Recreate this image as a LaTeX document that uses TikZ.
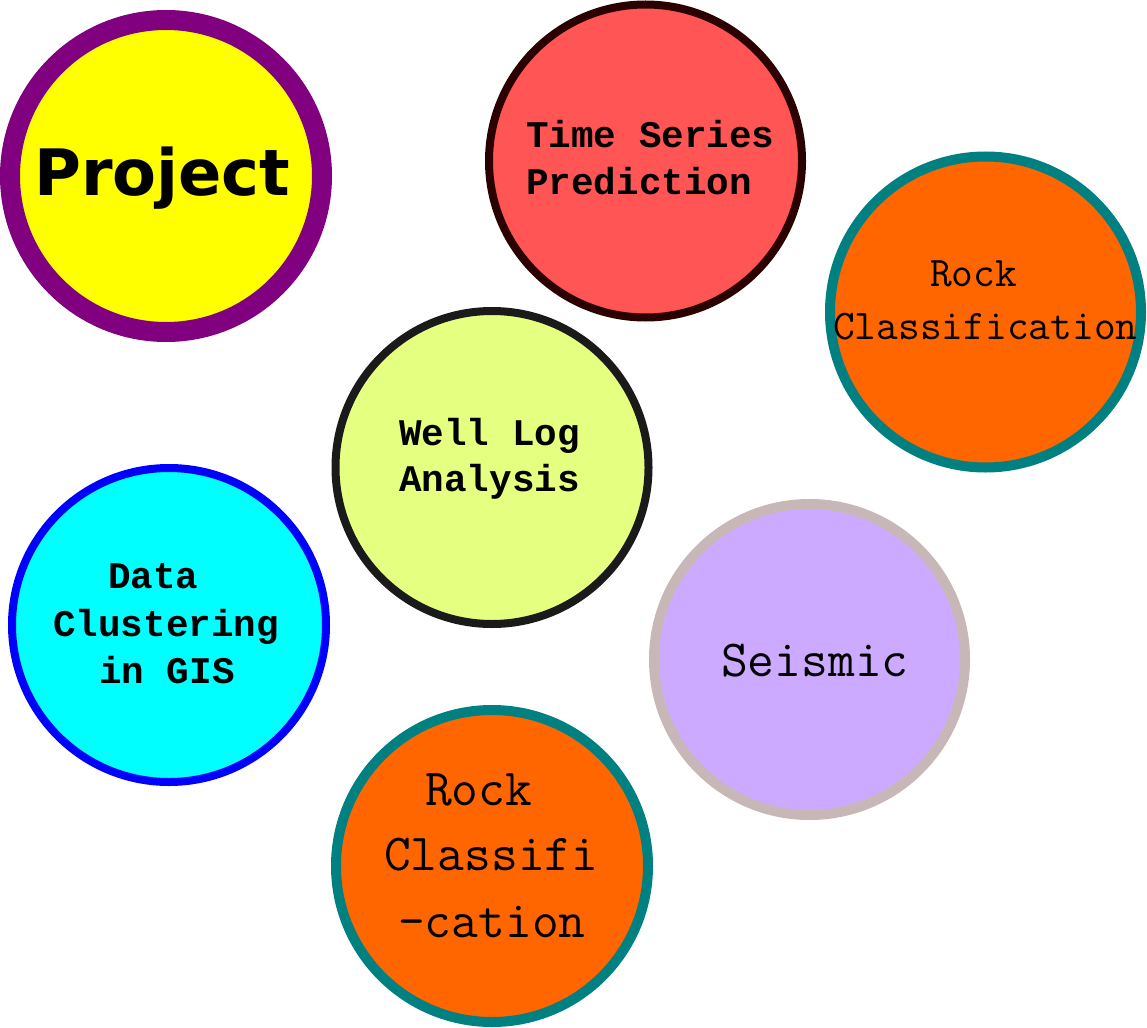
\documentclass[tikz,border=0pt]{standalone}
\usepackage{fontspec}
\newfontfamily\projfont{DejaVu Sans}
\newfontfamily\courbold{Liberation Mono}
\definecolor{projfill}{HTML}{FFFF00}
\definecolor{projline}{HTML}{800080}
\definecolor{timefill}{HTML}{FF5555}
\definecolor{timeline}{HTML}{2B0000}
\definecolor{rockfill}{HTML}{FF6600}
\definecolor{rockline}{HTML}{008080}
\definecolor{wellfill}{HTML}{E5FF80}
\definecolor{wellline}{HTML}{1A1A1A}
\definecolor{datafill}{HTML}{00FFFF}
\definecolor{dataline}{HTML}{0000FF}
\definecolor{seisfill}{HTML}{CCAAFF}
\definecolor{seisline}{HTML}{C8B7B7}
\tikzset{
  bubble/.style={circle, draw, inner sep=0pt},
  txt/.style={anchor=base west, inner sep=0pt, text=black},
  boldmono/.style={txt, font=\courbold\bfseries\fontsize{37.6}{37.6}\selectfont},
}
\begin{document}
\begin{tikzpicture}[x=1pt, y=-1pt]
\useasboundingbox (0,0) rectangle (1147,1027);
% circles
\node[bubble, fill=projfill, draw=projline, line width=20pt, minimum size=312pt] (proj) at (166,176) {};
\node[bubble, fill=timefill, draw=timeline, line width=8pt, minimum size=313pt] (time) at (645.5,161) {};
\node[bubble, fill=rockfill, draw=rockline, line width=10pt, minimum size=311pt] (rockA) at (985.5,312) {};
\node[bubble, fill=wellfill, draw=wellline, line width=8pt, minimum size=313pt] (well) at (492,467.5) {};
\node[bubble, fill=datafill, draw=dataline, line width=8pt, minimum size=314pt] (data) at (169,625) {};
\node[bubble, fill=seisfill, draw=seisline, line width=10pt, minimum size=311pt] (seis) at (809.5,659.5) {};
\node[bubble, fill=rockfill, draw=rockline, line width=10pt, minimum size=312pt] (rockB) at (492,866) {};
% texts
\node[txt, font=\projfont\bfseries\fontsize{64}{64}\selectfont] (tproj) at (34,195) {Project};
\node[boldmono] (ttime1) at (526,148) {Time Series};
\node[boldmono] (ttime2) at (526,194) {Prediction};
\node[boldmono] (twell1) at (399,445) {Well Log};
\node[boldmono] (twell2) at (399,491) {Analysis};
\node[boldmono] (tdata1) at (108,588) {Data};
\node[boldmono] (tdata2) at (53,636) {Clustering};
\node[boldmono] (tdata3) at (99,683) {in GIS};
\node[txt, font=\ttfamily\fontsize{42.2}{42.2}\selectfont] (trockA1) at (930,286) {Rock};
\node[txt, font=\ttfamily\fontsize{42.2}{42.2}\selectfont] (trockA2) at (833,339) {Classification};
\node[txt, font=\ttfamily\fontsize{52}{52}\selectfont] (tseis) at (721,676) {Seismic};
\node[txt, font=\ttfamily\fontsize{52}{52}\selectfont] (trockB1) at (425,805) {Rock};
\node[txt, font=\ttfamily\fontsize{52}{52}\selectfont] (trockB2) at (384,870) {Classifi};
\node[txt, font=\ttfamily\fontsize{52}{52}\selectfont] (trockB3) at (398,937) {-cation};
\end{tikzpicture}
\end{document}
